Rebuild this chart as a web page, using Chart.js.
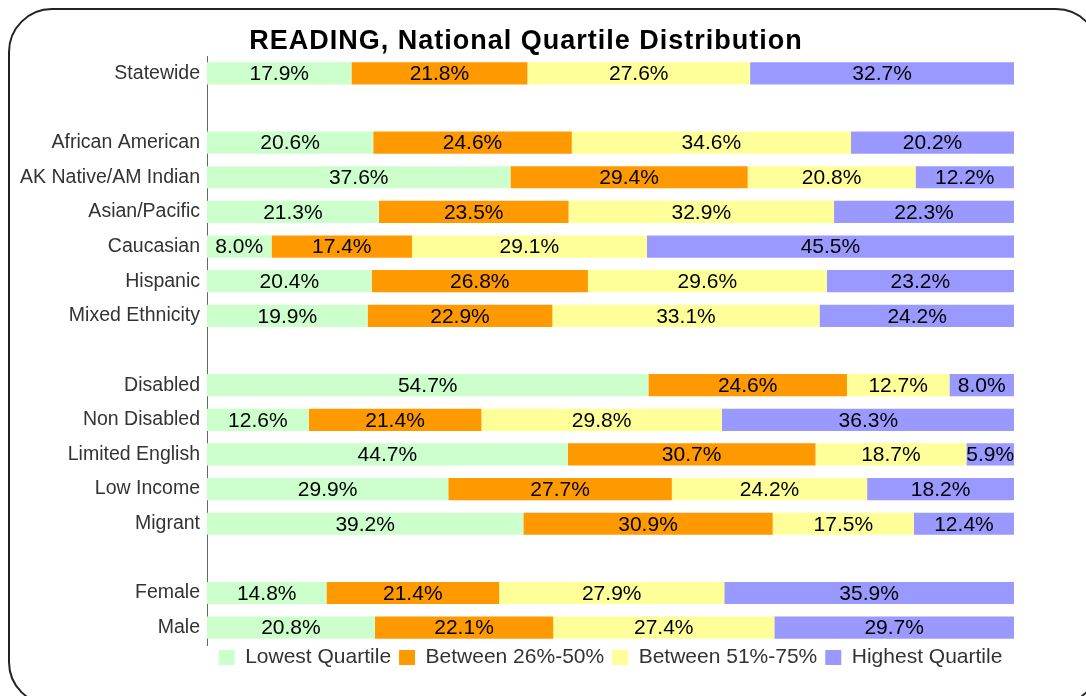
<!DOCTYPE html>
<html>
<head>
<meta charset="utf-8">
<script src="https://cdn.jsdelivr.net/npm/chart.js@4/dist/chart.umd.min.js"></script>
<style>
  html, body { margin: 0; padding: 0; background: #fff; overflow: hidden; }
  #frame {
    position: absolute; left: 8px; top: 8px; width: 1092px; height: 698px;
    border: 2px solid #222; border-radius: 44px; box-sizing: border-box;
  }
  #wrap { position: absolute; left: 0; top: 0; width: 1086px; height: 696px; }
</style>
</head>
<body>
<div id="frame"></div>
<div id="wrap"><canvas id="quartileChart"></canvas></div>
<script>
// groups: blank rows ('') separate statewide / ethnicity / program / gender
const groups = [
  "Statewide", "",
  "African American", "AK Native/AM Indian", "Asian/Pacific", "Caucasian", "Hispanic", "Mixed Ethnicity", "",
  "Disabled", "Non Disabled", "Limited English", "Low Income", "Migrant", "",
  "Female", "Male"
];

const lowest     = [17.9, null, 20.6, 37.6, 21.3,  8.0, 20.4, 19.9, null, 54.7, 12.6, 44.7, 29.9, 39.2, null, 14.8, 20.8];
const between26  = [21.8, null, 24.6, 29.4, 23.5, 17.4, 26.8, 22.9, null, 24.6, 21.4, 30.7, 27.7, 30.9, null, 21.4, 22.1];
const between51  = [27.6, null, 34.6, 20.8, 32.9, 29.1, 29.6, 33.1, null, 12.7, 29.8, 18.7, 24.2, 17.5, null, 27.9, 27.4];
const highest    = [32.7, null, 20.2, 12.2, 22.3, 45.5, 23.2, 24.2, null,  8.0, 36.3,  5.9, 18.2, 12.4, null, 35.9, 29.7];

const seriesNames = ["Lowest Quartile", "Between 26%-50%", "Between 51%-75%", "Highest Quartile"];
const seriesColors = ["#CCFFCC", "#FF9900", "#FFFF99", "#9999FF"];

const chartTitle = "READING, National Quartile Distribution";
const FONT = "'Liberation Sans', Arial, sans-serif";

// writes the percentage in the middle of each segment
const segmentLabels = {
  id: "segmentLabels",
  afterDatasetsDraw(chart) {
    const ctx = chart.ctx;
    ctx.save();
    ctx.font = "21px " + FONT;
    ctx.fillStyle = "#000";
    ctx.textAlign = "center";
    ctx.textBaseline = "middle";
    chart.data.datasets.forEach((ds, i) => {
      chart.getDatasetMeta(i).data.forEach((bar, j) => {
        const v = ds.data[j];
        if (v == null) return;
        const p = bar.getCenterPoint();
        ctx.fillText(v.toFixed(1) + "%", p.x, p.y + 1);
      });
    });
    ctx.restore();
  }
};

// title sits a little left of the plot centre, so it is drawn by hand
const titleText = {
  id: "titleText",
  afterDraw(chart) {
    const ctx = chart.ctx;
    ctx.save();
    ctx.font = "bold 27px " + FONT;
    ctx.letterSpacing = "1px";
    ctx.fillStyle = "#000";
    ctx.textAlign = "center";
    ctx.textBaseline = "alphabetic";
    ctx.fillText(chartTitle, 526, 49);
    ctx.restore();
  }
};

// pull the legend row up a few pixels, closer to the last bar
const legendNudge = {
  id: "legendNudge",
  afterLayout(chart) {
    chart.legend.top -= 6;
    chart.legend.bottom -= 6;
  }
};

const seriesData = [lowest, between26, between51, highest];

new Chart(document.getElementById("quartileChart"), {
  type: "bar",
  data: {
    labels: groups,
    datasets: seriesData.map((d, i) => ({
      label: seriesNames[i],
      data: d,
      backgroundColor: seriesColors[i],
      borderWidth: 0,
      barPercentage: 1,
      categoryPercentage: 0.64
    }))
  },
  options: {
    indexAxis: "y",
    responsive: true,
    maintainAspectRatio: false,
    animation: false,
    layout: { padding: { left: 12, right: 72, top: 56, bottom: 12 } },
    scales: {
      x: {
        stacked: true,
        min: 0,
        max: 100,
        display: false
      },
      y: {
        stacked: true,
        grid: { display: false, drawTicks: false },
        border: { display: true, color: "#666", width: 1 },
        ticks: {
          padding: 7,
          color: "#333",
          font: { family: FONT, size: 19.5 }
        },
        afterFit(scale) { scale.width = 195; }
      }
    },
    plugins: {
      title: { display: false },
      legend: {
        position: "bottom",
        fullSize: false,
        labels: {
          boxWidth: 16,
          boxHeight: 15,
          padding: 8,
          color: "#333",
          font: { family: FONT, size: 21 }
        }
      },
      tooltip: { enabled: false }
    }
  },
  plugins: [segmentLabels, titleText, legendNudge]
});
</script>
</body>
</html>
